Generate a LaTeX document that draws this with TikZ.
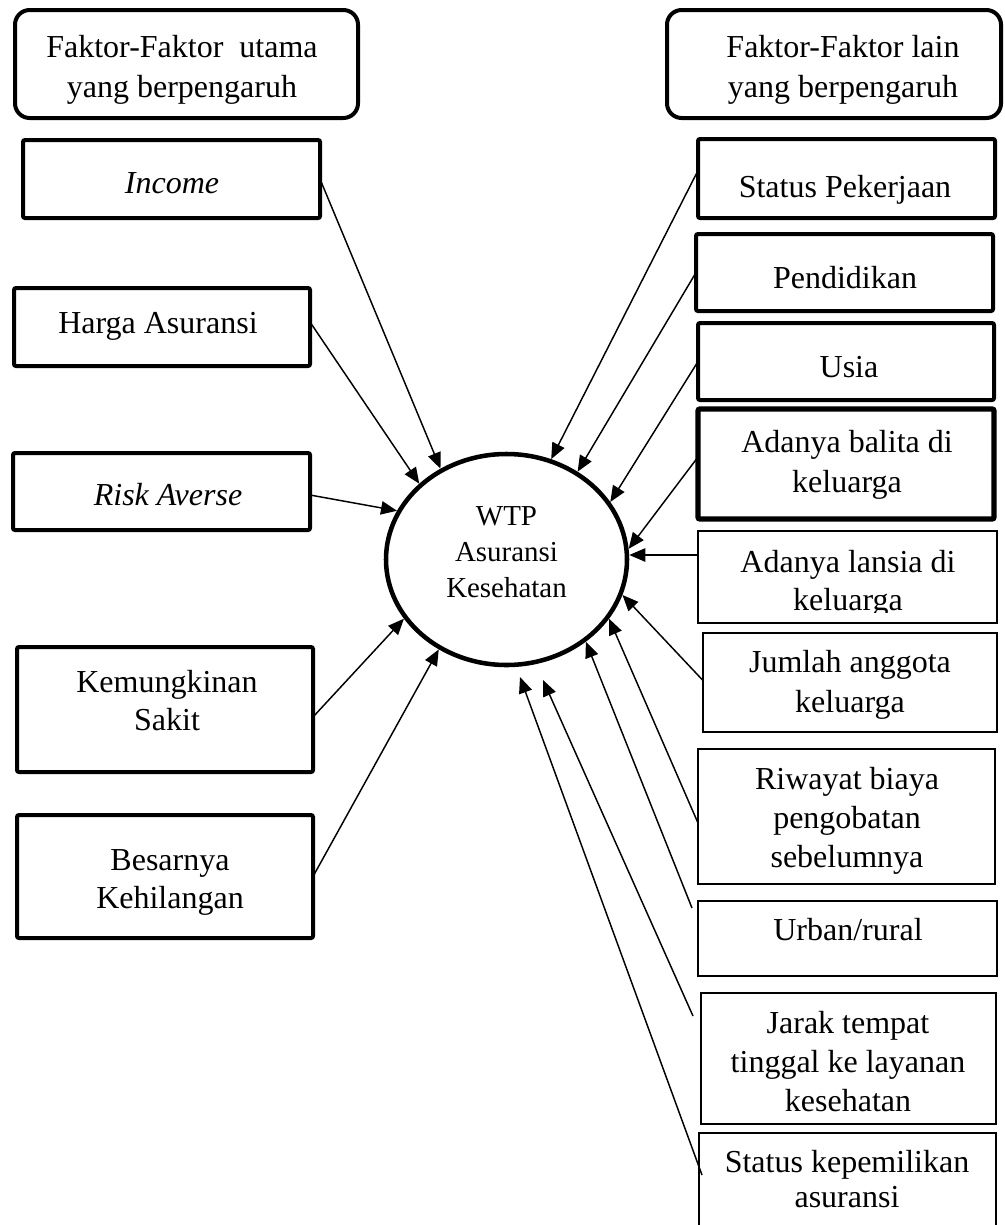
\documentclass[tikz,border=0pt]{standalone}
\usepackage{fontspec}
\setmainfont{Liberation Serif}
\usetikzlibrary{shapes.geometric,arrows.meta,calc}
\newcommand{\boxat}[6]{\node[#1, minimum width={(#5-#3)*0.75pt}, minimum height={(#6-#4)*0.75pt}] (#2) at ({(#3+#5)/2},{(#4+#6)/2}) {};}
\newcommand{\fsz}[2]{\fontsize{#1}{#2}\selectfont}
\begin{document}
\begin{tikzpicture}[x=0.75pt,y=-0.75pt,
  thickbox/.style={draw, line width=3pt, rounded corners=1.5pt, inner sep=0pt, outer sep=0pt},
  heavybox/.style={draw, line width=4pt, rounded corners=1.5pt, inner sep=0pt, outer sep=0pt},
  thinbox/.style={draw, line width=1pt, inner sep=0pt, outer sep=0pt},
  titlebox/.style={draw, line width=3pt, rounded corners=11pt, inner sep=0pt, outer sep=0pt},
  txt/.style={align=center, inner sep=0pt, anchor=base, font=\fsz{24}{30}},
  arr/.style={line width=1.1pt, -{Triangle[length=12pt,width=10pt]}},
  wtpnode/.style={ellipse, draw, line width=3.4pt, minimum width={241*0.75pt}, minimum height={211*0.75pt}, inner sep=0pt}
]
\clip (0,0) rectangle (1005,1225);
\fill[white] (0,0) rectangle (1005,1225);

% left column (text nodes are anchored at the baseline of their last line)
\boxat{titlebox}{titleL}{15}{10}{358}{118}
\boxat{thickbox}{inc}{23}{140}{320}{218}
\boxat{thickbox}{harga}{14}{288}{310}{366}
\boxat{thickbox}{risk}{13}{453}{310}{530}
\boxat{thickbox}{kem}{17}{647}{313}{772}
\boxat{thickbox}{bes}{17}{815}{313}{938}

\node[txt] (titleLt) at (182,97) {Faktor-Faktor~ utama\\yang berpengaruh};
\node[txt] (inct) at (172,193) {\itshape Income};
\node[txt] (hargat) at (158,333) {Harga Asuransi};
\node[txt] (riskt) at (168,505) {\itshape Risk Averse};
\node[txt, font=\fsz{24}{28.5}] (kemt) at (167,730) {Kemungkinan\\Sakit};
\node[txt, font=\fsz{24}{28.5}] (best) at (170,908) {Besarnya\\Kehilangan};

% right column
\boxat{titlebox}{titleR}{667}{10}{1001}{118}
\boxat{thickbox}{sp}{698}{139}{995}{218}
\boxat{thickbox}{pend}{696}{234}{993}{311}
\boxat{thickbox}{usia}{698}{323}{994}{400}
\boxat{heavybox}{bal}{698}{409}{994}{519}
\boxat{thinbox}{lan}{698}{531}{997}{623}
\boxat{thinbox}{jum}{703}{633}{997}{732}
\boxat{thinbox}{riw}{698}{749}{995}{884}
\boxat{thinbox}{urb}{698}{901}{997}{976}
\boxat{thinbox}{jar}{701}{993}{996}{1124}
\boxat{thinbox}{skep}{699}{1133}{996}{1245}

\node[txt] (titleRt) at (843,97) {Faktor-Faktor lain\\yang berpengaruh};
\node[txt] (spt) at (845,197) {Status Pekerjaan};
\node[txt] (pendt) at (845,288) {Pendidikan};
\node[txt] (usiat) at (849,377) {Usia};
\node[txt] (balt) at (847,492) {Adanya balita di\\keluarga};
\begin{scope}
  \clip (698,531) rectangle (997,612);
  \node[txt, font=\fsz{24}{28.5}] (lant) at (848,610) {Adanya lansia di\\keluarga};
\end{scope}
\node[txt] (jumt) at (850,712) {Jumlah anggota\\keluarga};
\node[txt, font=\fsz{24}{29}] (riwt) at (847,867) {Riwayat biaya\\pengobatan\\sebelumnya};
\node[txt] (urbt) at (848,940) {Urban/rural};
\node[txt, font=\fsz{24}{29}] (jart) at (848,1111) {Jarak tempat\\tinggal ke layanan\\kesehatan};
\node[txt, font=\fsz{24}{26}] (skept) at (847,1207) {Status kepemilikan\\asuransi};

% centre
\node[wtpnode] (wtp) at (506.5,559.5) {};
\node[txt, font=\fsz{21.7}{27}] (wtpt) at (506.5,597) {WTP\\Asuransi\\Kesehatan};

% free ends / start points
\coordinate (lanS) at ($(lan.west)+(0,-22)$);
\coordinate (jarT) at (543,680);
\coordinate (skepT) at (520,677);

% arrows left
\draw[arr] (inc.east) -- (wtp.126);
\draw[arr] ($(harga.east)+(0,-5)$) -- (wtp.139);
\draw[arr] ($(risk.east)+(0,3.5)$) -- (wtp.156);
\draw[arr] ($(kem.east)+(0,7.5)$) -- (wtp.210);
\draw[arr] (bes.east) -- (wtp.233.5);

% arrows right
\draw[arr] ($(sp.west)+(0,-8)$) -- (wtp.66);
\draw[arr] (pend.west) -- (wtp.51);
\draw[arr] (usia.west) -- (wtp.29.5);
\draw[arr] ($(bal.west)+(0,-7)$) -- (wtp.5);
\draw[arr] (lanS) -- (lanS -| wtp.east);
\draw[arr] ($(jum.west)+(0,-2)$) -- (wtp.-17.7);
\draw[arr] ($(riw.west)+(0,6.5)$) -- (wtp.-30.6);
\draw[arr] ($(urb.north west)+(-6,7)$) -- (wtp.-46.8);
\draw[arr] ($(jar.north west)+(-8,23)$) -- (jarT);
\draw[arr] ($(skep.north west)+(3,42)$) -- (skepT);
\end{tikzpicture}
\end{document}
